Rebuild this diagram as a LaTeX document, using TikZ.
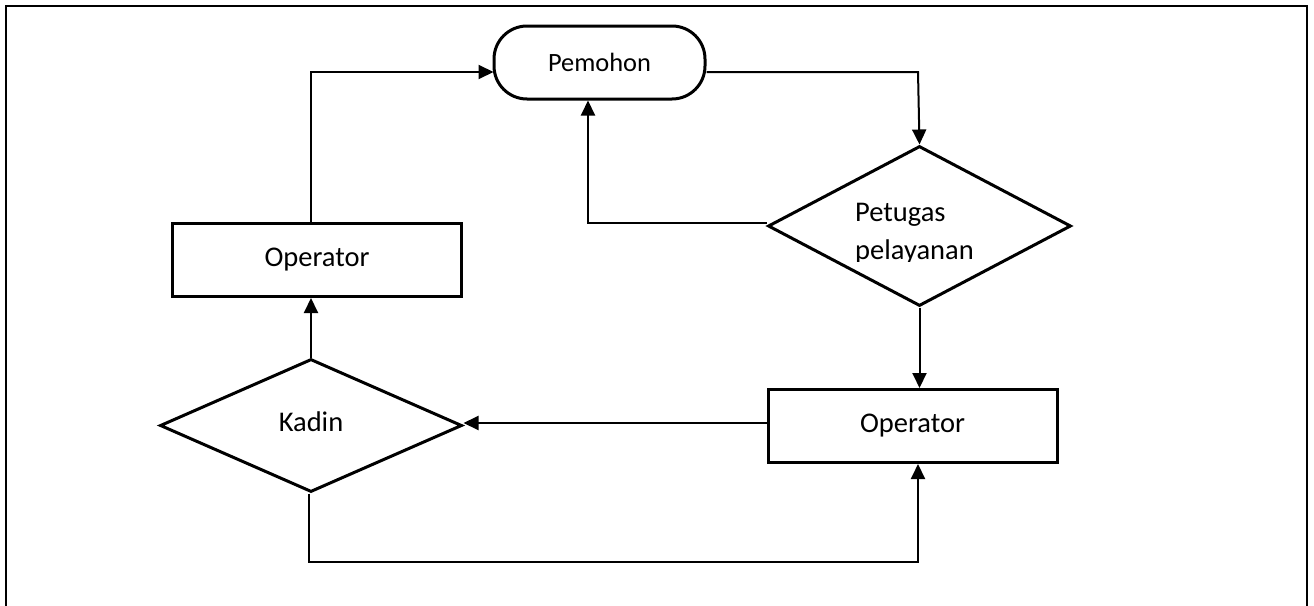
\documentclass[tikz,border=0pt]{standalone}
\usepackage{fontspec}
\setmainfont{Carlito}
\usetikzlibrary{shapes.geometric,arrows.meta}
\begin{document}
\begin{tikzpicture}[x=1pt,y=-1pt,
  shapeline/.style={draw=black,line width=3pt,fill=white,inner sep=0pt},
  procbox/.style={shapeline,rectangle,minimum width=289pt,minimum height=73pt,font=\fontsize{28.5}{34}\selectfont},
  decis/.style={shapeline,diamond,font=\fontsize{28.5}{34}\selectfont},
  term/.style={shapeline,rectangle,rounded corners=33pt,minimum width=211pt,minimum height=73pt,font=\fontsize{26.4}{32}\selectfont},
  conn/.style={draw=black,line width=2pt},
  arr/.style={conn,-{Triangle[length=15pt,width=14pt]}},
  lbl/.style={inner sep=0pt,font=\fontsize{28.5}{34}\selectfont}
]
\useasboundingbox (0,0) rectangle (1314,605);
\draw[line width=2.6pt] (6,610) -- (6,6) -- (1307,6) -- (1307,610);

\node[term] (pem) at (599.5,62.5) {Pemohon};
\node[decis,minimum width=303pt,minimum height=160pt] (pet) at (919.5,226) {};
\node[procbox] (opL) at (317,260) {\raisebox{3pt}{Operator}};
\node[procbox] (opR) at (912.5,426) {\raisebox{3pt}{Operator}};
\node[decis,minimum width=302pt,minimum height=133pt] (kad) at (311,425.5) {\raisebox{7pt}{Kadin}};

\begin{scope}
\clip (780,180) rectangle (1060,261.5);
\node[lbl,anchor=base west] (pet1) at (855,221) {Petugas};
\node[lbl,anchor=base west] (pet2) at (855,259.5) {pelayanan};
\end{scope}

\coordinate (c1) at (311,72);
\coordinate (c2) at (918,72);
\coordinate (c3) at (588,223);
\coordinate (c4) at (309,562);
\coordinate (c5) at (918,562);

% Operator (left) -> Pemohon
\draw[arr] (opL.north -| c1) -- (c1) -- ([xshift=1pt]pem.west |- c1);
% Pemohon -> Petugas
\draw[arr] (pem.east |- c2) -- (c2) -- (pet.north);
% Petugas -> Pemohon
\draw[arr] (pet.west |- c3) -- (c3) -- (c3 |- pem.south);
% Petugas -> Operator (right)
\draw[arr] (pet.south) -- (pet.south |- opR.north);
% Operator (right) -> Kadin
\draw[arr] ([yshift=3pt]opR.west) -- ([yshift=3pt]opR.west -| kad.east);
% Kadin -> Operator (left)
\draw[arr] (kad.north) -- (kad.north |- opL.south);
% Kadin -> Operator (right)
\draw[arr] (kad.south -| c4) -- (c4) -- (c5) -- (c5 |- opR.south);
\end{tikzpicture}
\end{document}
